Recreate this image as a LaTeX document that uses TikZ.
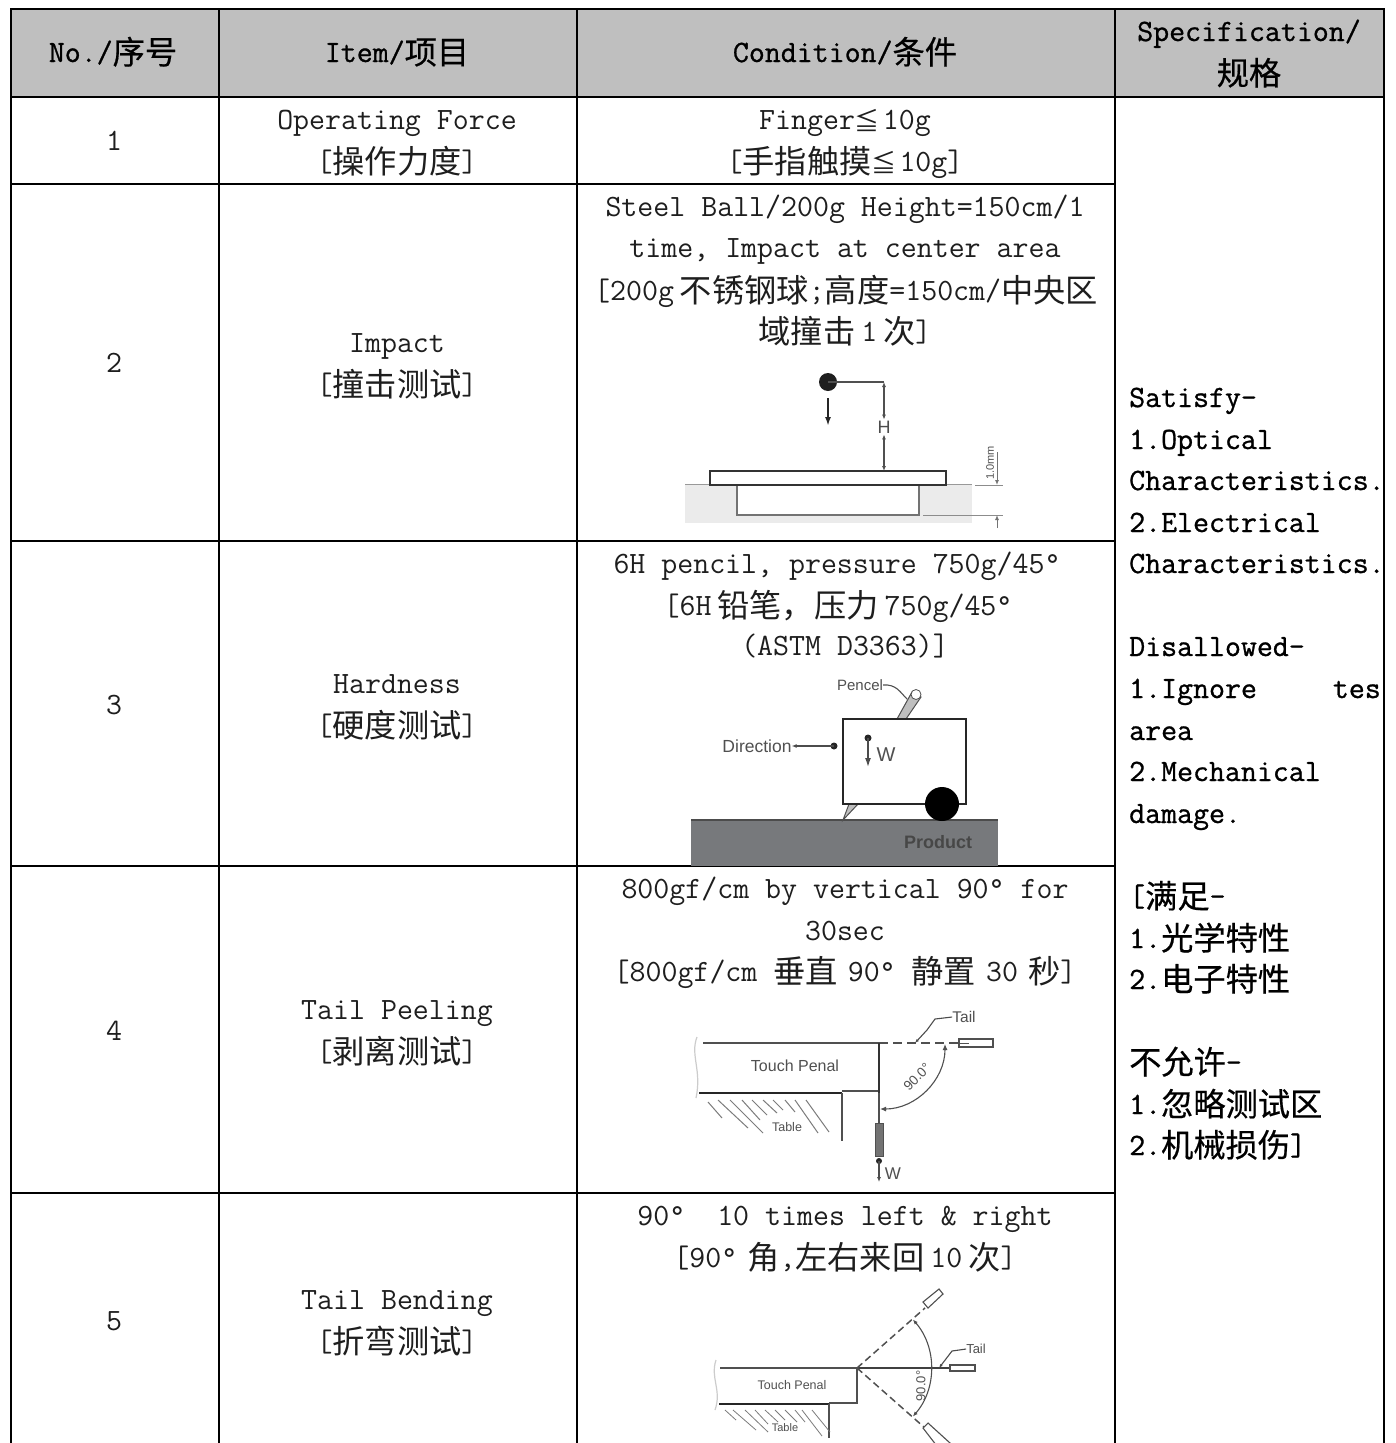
\documentclass[tikz,border=0pt]{standalone}
\usepackage{fontspec}
\usetikzlibrary{arrows.meta,patterns}
\setsansfont{Liberation Sans}
\newfontfamily\cjkf{Noto Sans CJK SC}[Scale=1.04]
\newfontfamily\cjkb{Noto Sans CJK SC}[Scale=1.04,FakeBold=0.5]
\newfontfamily\latf{Latin Modern Mono}
\newfontfamily\latb{Latin Modern Mono}[FakeBold=0.9]
\newcommand\Cc[1]{\raisebox{-2pt}{\cjkf #1}}
\newcommand\Cb[1]{\raisebox{-2pt}{\cjkb #1}}
\newcommand\Cle{\raisebox{-1pt}{\fontsize{24}{28}\selectfont\cjkf ≦}\hspace{3pt}}
\newcommand\gp{\hspace{6pt}}
\newcommand\gq{\hspace{10pt}}
\definecolor{headgray}{HTML}{BFBFBF}
\definecolor{inkgray}{HTML}{1E1E1E}
\definecolor{skline}{HTML}{505050}
\definecolor{prodgray}{HTML}{77797C}
\tikzset{
 x=1pt,y=-1pt,
 grid/.style={line width=1.5pt,draw=black},
 tx/.style={anchor=base,inner sep=0pt,font=\fontsize{31}{36}\selectfont\latf,text=inkgray},
 hd/.style={anchor=base,inner sep=0pt,font=\fontsize{31}{36}\selectfont\latb,text=black},
 sp/.style={anchor=base west,inner sep=0pt,font=\fontsize{31}{36}\selectfont\latb,text=black},
 sk/.style={draw=skline,line width=1.5pt},
 skt/.style={draw=black!80,line width=2.2pt},
 lab/.style={inner sep=0pt,font=\sffamily\fontsize{17.5}{20}\selectfont,text=skline},
 labs/.style={inner sep=0pt,font=\sffamily\fontsize{12.5}{14}\selectfont,text=skline},
 arr/.style={-{Latex[length=9pt,width=6pt]}},
 arrs/.style={-{Latex[length=5pt,width=4pt]}},
 arrb/.style={{Latex[length=5pt,width=4pt]}-{Latex[length=5pt,width=4pt]}},
 hatchl/.style={draw=skline!75,line width=1pt},
}
\begin{document}
\begin{tikzpicture}
\path[use as bounding box,fill=white] (0,0) rectangle (1396,1443);
\clip (0,0) rectangle (1396,1443);
% header band and grid
\fill[headgray] (11,9) rectangle (1384,97);
\draw[grid] (11,1443) -- (11,9) -- (1384,9) -- (1384,1443);
\draw[grid] (219,9) -- (219,1443);
\draw[grid] (577,9) -- (577,1443);
\draw[grid] (1115,9) -- (1115,1443);
\draw[grid] (11,97) -- (1384,97);
\draw[grid] (11,184) -- (1115,184);
\draw[grid] (11,541) -- (1115,541);
\draw[grid] (11,866) -- (1115,866);
\draw[grid] (11,1193) -- (1115,1193);
% header
\node[hd] (h1) at (113,62) {No./\Cb{序号}};
\node[hd] (h2) at (397,62) {Item/\Cb{项目}};
\node[hd] (h3) at (845,62) {Condition/\Cb{条件}};
\node[hd] (h4a) at (1249,41) {Specification/};
\node[hd] (h4b) at (1249,83) {\Cb{规格}};
% numbers
\node[tx] (n1) at (114,150) {1};
\node[tx] (n2) at (114,372) {2};
\node[tx] (n3) at (114,714) {3};
\node[tx] (n4) at (114,1040) {4};
\node[tx] (n5) at (114,1330) {5};
% items
\node[tx] (i1a) at (397,129) {Operating Force};
\node[tx] (i1b) at (397,171) {[\Cc{操作力度}]};
\node[tx] (i2a) at (397,352) {Impact};
\node[tx] (i2b) at (397,394) {[\Cc{撞击测试}]};
\node[tx] (i3a) at (397,693) {Hardness};
\node[tx] (i3b) at (397,735) {[\Cc{硬度测试}]};
\node[tx] (i4a) at (397,1019) {Tail Peeling};
\node[tx] (i4b) at (397,1061) {[\Cc{剥离测试}]};
\node[tx] (i5a) at (397,1309) {Tail Bending};
\node[tx] (i5b) at (397,1351) {[\Cc{折弯测试}]};
% conditions
\node[tx] (c1a) at (845,129) {Finger\Cle 10g};
\node[tx] (c1b) at (845,171) {[\Cc{手指触摸}\Cle 10g]};
\node[tx] (c2a) at (845,216) {Steel Ball/200g Height=150cm/1};
\node[tx] (c2b) at (845,257) {time, Impact at center area};
\node[tx] (c2c) at (846,300) {[200g\gp\Cc{不锈钢球};\Cc{高度}=150cm/\Cc{中央区}};
\node[tx] (c2d) at (845,341) {\Cc{域撞击}\gp 1\gp\Cc{次}]};
\node[tx] (c3a) at (837,573) {6H pencil, pressure 750g/45°};
\node[tx] (c3b) at (838,615) {[6H\gp\Cc{铅笔，压力}\gp 750g/45°};
\node[tx] (c3c) at (845,655) {(ASTM D3363)]};
\node[tx] (c4a) at (845,898) {800gf/cm by vertical 90° for};
\node[tx] (c4b) at (845,940) {30sec};
\node[tx] (c4c) at (845,981) {[800gf/cm \Cc{垂直}\gq 90° \Cc{静置}\gq 30\gq\Cc{秒}]};
\node[tx] (c5a) at (845,1225) {90°\ \ 10 times left \& right};
\node[tx] (c5b) at (845,1267) {[90°\gq\Cc{角},\Cc{左右来回}\gp 10\gp\Cc{次}]};
% specification column
\node[sp] (s1) at (1129,407) {Satisfy-};
\node[sp] (s2) at (1129,449) {1.Optical};
\node[sp] (s3) at (1129,490) {Characteristics.};
\node[sp] (s4) at (1129,532) {2.Electrical};
\node[sp] (s5) at (1129,573) {Characteristics.};
\node[sp] (s6) at (1129,656) {Disallowed-};
\node[sp] (s7) at (1129,698) {1.Ignore};
\node[hd,anchor=base east] (s7b) at (1381,698) {tes};
\node[sp] (s8) at (1129,740) {area};
\node[sp] (s9) at (1129,781) {2.Mechanical};
\node[sp] (s10) at (1129,823) {damage.};
\node[sp] (s11) at (1129,906) {[\Cb{满足}-};
\node[sp] (s12) at (1129,948) {1.\Cb{光学特性}};
\node[sp] (s13) at (1129,989) {2.\Cb{电子特性}};
\node[sp] (s14) at (1129,1072) {\Cb{不允许}-};
\node[sp] (s15) at (1129,1114) {1.\Cb{忽略测试区}};
\node[sp] (s16) at (1129,1155) {2.\Cb{机械损伤}]};
% ---------- sketch 1: impact
\fill[black!8] (685,484) rectangle (972,523);
\fill[white] (737,485) rectangle (919,515);
\draw[sk,line width=1pt,draw=black!40] (685,484) -- (710,484);
\draw[sk,line width=1pt,draw=black!40] (946,484) -- (972,484);
\draw[sk,draw=black!55,line width=2pt] (737,485) -- (737,515) -- (919,515) -- (919,485);
\draw[skt,line width=1.8pt,fill=white] (710,471) rectangle (946,485);
\fill[black!88] (828,382) circle (9);
\draw[sk,line width=1.1pt] (828,382) -- (884,382);
\draw[black!85,line width=1.8pt,arr] (828,398) -- (828,426);
\node[font=\sffamily\fontsize{18}{20}\selectfont,text=black!70,fill=white,inner sep=1pt] (lh) at (884,427) {H};
\draw[sk,line width=1.1pt,arrb] (884,382) -- (lh);
\draw[sk,line width=1.1pt,arrb] (884,471) -- (lh);
\draw[sk,line width=.8pt,draw=black!45] (975,485) -- (1003,485);
\draw[sk,line width=.8pt,draw=black!45] (923,515) -- (1003,515);
\draw[sk,line width=1pt,draw=black!55,arrs] (997,452) -- (997,485);
\draw[sk,line width=1pt,draw=black!55,arrs] (997,528) -- (997,515);
\node[font=\sffamily\fontsize{11}{12}\selectfont,text=skline,rotate=90,inner sep=0pt] (l10) at (990,463) {1.0mm};
% ---------- sketch 2: hardness
\fill[prodgray] (691,820) rectangle (998,866);
\draw[black!70,line width=1.4pt] (691,820) -- (998,820);
\draw[skline,line width=1pt,fill=black!25] (843,820) -- (849,804) -- (858,804) -- cycle;
\draw[skline,line width=1pt,fill=black!25] (897,719) -- (912,692) -- (921,697) -- (906,719) -- cycle;
\draw[skline,line width=.8pt,fill=white] (916,694.5) ellipse (5 and 5);
\draw[black!85,line width=2pt,fill=white] (843,719) rectangle (966,804);
\fill[black] (942,804) circle (17);
\node[lab,font=\sffamily\bfseries\fontsize{18}{20}\selectfont,text=black!72] (lprod) at (938,842) {Product};
\node[labs,font=\sffamily\fontsize{15}{17}\selectfont] (lpen) at (860,685) {Pencel};
\draw[sk,line width=1.1pt] (lpen.east) .. controls (896,684) and (900,692) .. (907,699);
\node[lab] (ldir) at (757,746) {Direction};
\fill[black!85] (834,746) circle (3.5);
\draw[black!70,line width=1.4pt,arrs] (834,746) -- (ldir.east);
\fill[black!85] (868,738) circle (3.5);
\draw[black!70,line width=1.4pt,arr] (868,738) -- (868,767);
\node[lab,font=\sffamily\fontsize{20}{22}\selectfont] (lw) at (886,755) {W};
% ---------- sketch 3: tail peeling
\draw[sk] (703,1043) -- (879,1043);
\draw[sk,dash pattern=on 9pt off 5pt] (879,1043) -- (959,1043);
\draw[sk,line width=1.2pt,fill=white] (959,1039) rectangle (993,1047);
\draw[sk,line width=.8pt] (959,1043) -- (969,1043);
\draw[black!20,line width=1.2pt] (697,1037) .. controls (690,1055) and (702,1070) .. (696,1098);
\draw[black!85,line width=2pt] (699,1093) -- (842,1093);
\draw[sk,line width=1.1pt] (842,1091) -- (879,1091);
\draw[skt] (879,1043) -- (879,1093);
\draw[sk] (879,1093) -- (879,1123);
\draw[sk] (842,1093) -- (842,1141);
\draw[skline,fill=black!55,line width=.5pt] (875,1123) rectangle (883,1156);
\fill[black!85] (879,1161) circle (3);
\draw[black!70,line width=1.1pt,arrs] (879,1161) -- (879,1182);
\node[lab,font=\sffamily\fontsize{17}{19}\selectfont] (lw2) at (893,1174) {W};
\draw[hatchl] (708,1102)--(722,1118) (718,1100)--(748,1128) (730,1100)--(763,1133) (742,1100)--(760,1120) (752,1100)--(767,1115) (763,1100)--(777,1113) (773,1100)--(783,1110) (785,1100)--(795,1112) (795,1100)--(818,1133) (806,1100)--(829,1132);
\node[labs] (ltab) at (787,1127) {Table};
\node[lab,font=\sffamily\fontsize{16}{18}\selectfont] (ltp) at (795,1066) {Touch Penal};
\draw[sk,line width=1.1pt,{Latex[length=6pt,width=5pt]}-{Latex[length=6pt,width=5pt]}] (945,1044) arc[start angle=0,end angle=90,radius=65];
\node[lab,font=\sffamily\fontsize{13.5}{15}\selectfont,rotate=45] (l90) at (917,1077) {90.0°};
\node[labs,font=\sffamily\fontsize{15.5}{17}\selectfont] (ltail) at (964,1017) {Tail};
\draw[black!70,line width=1.1pt,{Latex[length=4pt,width=3pt]}-] (915,1043) -- (927,1030) -- (935,1019) -- (ltail.west);
% ---------- sketch 4: tail bending
\draw[sk,line width=1.2pt] (720,1368) -- (857,1368);
\draw[black!75,line width=1.7pt] (857,1368) -- (950,1368);
\draw[sk,line width=1.1pt,fill=white] (950,1365) rectangle (975,1371);
\draw[black!20,line width=1.2pt] (716,1360) .. controls (710,1378) and (722,1390) .. (715,1410);
\draw[sk,line width=1.2pt] (857,1368) -- (857,1403) -- (829,1403);
\draw[black!85,line width=2pt] (719,1404) -- (829,1404);
\draw[sk] (829,1404) -- (829,1438);
\draw[sk,dash pattern=on 7pt off 4pt] (857,1368) -- (925,1308);
\draw[sk,dash pattern=on 7pt off 4pt] (857,1368) -- (925,1428);
\draw[sk,line width=1.1pt,fill=white] (923,1302) -- (939,1289) -- (943,1294) -- (928,1308) -- cycle;
\draw[sk,line width=1.1pt,fill=white] (923,1428) -- (928,1423) -- (950,1443) -- (940,1450) -- cycle;
\draw[sk,line width=1.1pt,{Latex[length=5pt,width=4pt]}-{Latex[length=5pt,width=4pt]}] (857,1368) ++(-41:74) arc[start angle=-41,end angle=41,radius=74];
\draw[hatchl,line width=.8pt] (725,1410)--(736,1420) (733,1410)--(756,1430) (745,1410)--(768,1432) (755,1410)--(768,1424) (765,1410)--(778,1422) (775,1410)--(785,1420) (785,1410)--(797,1422) (795,1410)--(805,1422) (802,1410)--(822,1436) (812,1410)--(830,1432);
\node[labs,font=\sffamily\fontsize{11}{12}\selectfont] (ltab2) at (785,1428) {Table};
\node[labs,font=\sffamily\fontsize{12.5}{14}\selectfont] (ltp2) at (792,1385) {Touch Penal};
\node[lab,font=\sffamily\fontsize{13}{14}\selectfont,rotate=90] (l902) at (921,1386) {90.0°};
\node[labs,font=\sffamily\fontsize{13}{14}\selectfont] (ltail2) at (976,1349) {Tail};
\draw[black!70,line width=1.1pt,{Latex[length=4pt,width=3pt]}-] (939,1368) -- (952,1351) -- (ltail2.west);
\end{tikzpicture}
\end{document}
